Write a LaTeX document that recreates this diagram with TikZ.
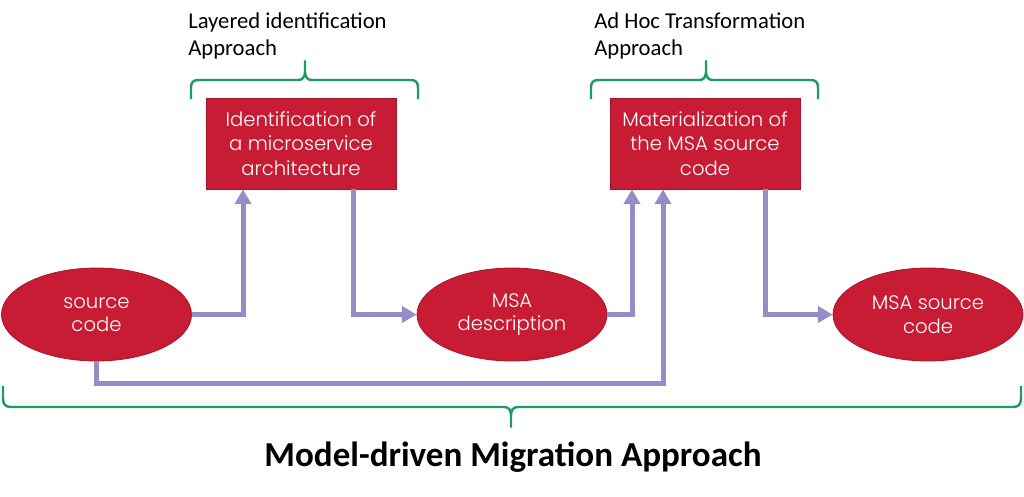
\documentclass[tikz,border=0pt]{standalone}
\usepackage{fontspec}
\setmainfont{Carlito}
\newfontfamily\gothic{Poppins}[UprightFont={* Light}]
\usetikzlibrary{arrows.meta,calc,shapes.geometric}
\definecolor{boxred}{RGB}{200,28,52}
\definecolor{boxedge}{RGB}{170,20,40}
\definecolor{arrpurple}{RGB}{150,140,200}
\definecolor{bracegreen}{RGB}{30,155,95}
\tikzset{
  stepbox/.style={rectangle,fill=boxred,draw=boxedge,line width=0.6pt,minimum width=142.5pt,minimum height=68.25pt,inner sep=0pt,align=center,text=white,font=\gothic\fontsize{14.7}{18.5}\selectfont},
  stepell/.style={ellipse,fill=boxred,draw=boxedge,line width=0.6pt,minimum width=142.5pt,minimum height=69.75pt,inner sep=0pt,align=center,text=white,font=\gothic\fontsize{14.7}{17.5}\selectfont},
  arr/.style={draw=arrpurple,line width=3.75pt,-{Triangle[width=12pt,length=11pt]}},
  bracepath/.style={draw=bracegreen,line width=1.8pt,line join=round},
  toplabel/.style={anchor=north west,align=left,inner sep=0pt,font=\fontsize{17}{20.5}\selectfont},
}
\begin{document}
\begin{tikzpicture}[x=0.75pt,y=-0.75pt]
\useasboundingbox (0,0) rectangle (1024,496);
% labels
\node[toplabel] (lab1) at (188,12) {Layered identification\\Approach};
\node[toplabel] (lab2) at (594,12) {Ad Hoc Transformation\\Approach};
\node[font=\bfseries\fontsize{26.3}{30}\selectfont,inner sep=0pt] (title) at (513,457) {Model-driven Migration Approach};
% braces
\draw[bracepath] (191,99) -- (191,88) .. controls (191,82) and (193,80) .. (199,80) -- (298,80) .. controls (302,80) and (305,78) .. (305,71) -- (305,61) -- (305,71) .. controls (305,78) and (308,80) .. (312,80) -- (410,80) .. controls (416,80) and (418,82) .. (418,88) -- (418,99);
\draw[bracepath] (591,99) -- (591,88) .. controls (591,82) and (593,80) .. (599,80) -- (699,80) .. controls (703,80) and (706,78) .. (706,71) -- (706,61) -- (706,71) .. controls (706,78) and (709,80) .. (713,80) -- (810,80) .. controls (816,80) and (818,82) .. (818,88) -- (818,99);
\draw[bracepath] (3,386) -- (3,398) .. controls (3,404) and (5,407) .. (11,407) -- (504,407) .. controls (509,407) and (511,410) .. (511,416) -- (511,427) -- (511,416) .. controls (511,410) and (513,407) .. (518,407) -- (1013,407) .. controls (1019,407) and (1021,404) .. (1021,398) -- (1021,386);
% nodes
\node[stepbox] (box1) at (301,143.5) {Identification of\\a microservice\\architecture};
\node[stepbox] (box2) at (705,143.5) {Materialization of\\the MSA source\\code};
\node[stepell] (src) at (96.5,314.5) {source\\code};
\node[stepell] (msad) at (512,314.5) {MSA\\description};
\node[stepell] (msasc) at (928,314.5) {MSA source\\code};
% connectors
\draw[arr] (src.east) -| ($(box1.south)+(-58,0)$);
\draw[arr] ($(box1.south)+(52,0)$) |- (msad.west);
\draw[arr] (msad.east) -| ($(box2.south)+(-73,0)$);
\draw[arr] (src.south) |- ($(box2.south)+(-42,194)$) -- ($(box2.south)+(-42,0)$);
\draw[arr] ($(box2.south)+(60,0)$) |- (msasc.west);
\end{tikzpicture}
\end{document}
